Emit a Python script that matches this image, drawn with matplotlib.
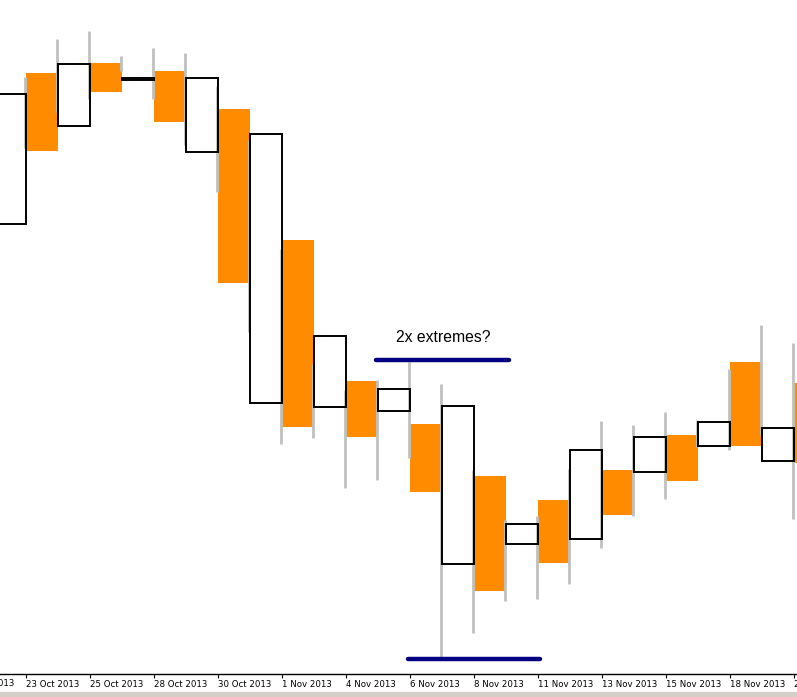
import matplotlib
matplotlib.use("Agg")
import matplotlib.pyplot as plt
from matplotlib.patches import Rectangle

# daily bars, 22 Oct .. 20 Nov 2013 (sunday bars included)
dates = ["22 Oct 2013", "23 Oct 2013", "24 Oct 2013", "25 Oct 2013", "27 Oct 2013",
         "28 Oct 2013", "29 Oct 2013", "30 Oct 2013", "31 Oct 2013", "1 Nov 2013",
         "3 Nov 2013", "4 Nov 2013", "5 Nov 2013", "6 Nov 2013", "7 Nov 2013",
         "8 Nov 2013", "10 Nov 2013", "11 Nov 2013", "12 Nov 2013", "13 Nov 2013",
         "14 Nov 2013", "15 Nov 2013", "17 Nov 2013", "18 Nov 2013", "19 Nov 2013",
         "20 Nov 2013"]
opens = [1.3676, 1.3827, 1.3774, 1.3837, 1.3820, 1.3829, 1.3748, 1.3791, 1.3497, 1.3660,
         1.3493, 1.3519, 1.3489, 1.3476, 1.3336, 1.3424, 1.3356, 1.3400, 1.3361, 1.3430,
         1.3428, 1.3465, 1.3454, 1.3538, 1.3439, 1.3517]
closes = [1.3806, 1.3749, 1.3836, 1.3808, 1.3822, 1.3778, 1.3822, 1.3617, 1.3766, 1.3473,
          1.3564, 1.3463, 1.3511, 1.3408, 1.3494, 1.3309, 1.3376, 1.3337, 1.3450, 1.3385,
          1.3463, 1.3419, 1.3478, 1.3454, 1.3472, 1.3437]
highs = [1.3820, 1.3823, 1.3861, 1.3869, 1.3844, 1.3852, 1.3847, 1.3814, 1.3760, 1.3651,
         1.3536, 1.3510, 1.3520, 1.3538, 1.3516, 1.3430, 1.3380, 1.3384, 1.3431, 1.3479,
         1.3475, 1.3488, 1.3480, 1.3531, 1.3575, 1.3557]
lows = [1.3665, 1.3752, 1.3788, 1.3801, 1.3829, 1.3801, 1.3755, 1.3708, 1.3568, 1.3456,
        1.3462, 1.3412, 1.3420, 1.3442, 1.3243, 1.3267, 1.3299, 1.3301, 1.3316, 1.3352,
        1.3384, 1.3401, 1.3453, 1.3450, 1.3465, 1.3381]

# the two "extreme" levels marked on the chart
upper_level = 1.3540
lower_level = 1.3241

fig = plt.figure(figsize=(7.97, 6.97), dpi=100, facecolor="white")
ax = fig.add_axes([0, 23 / 697, 1, 674 / 697])

n = len(dates)
x = list(range(n))

# wicks (drawn at the left edge of each bar, just like the source chart)
ax.vlines([i - 0.04 for i in x], lows, highs, color="#c0c0c0", lw=2.0, zorder=3)

for i in x:
    o, c = opens[i], closes[i]
    if c < o:
        ax.bar(i, o - c, bottom=c, width=1, align="edge", color="#ff8c00",
               edgecolor="none", zorder=2)
    else:
        # fill under the wicks, outline on top of them
        ax.bar(i, c - o, bottom=o, width=1, align="edge", color="white",
               edgecolor="none", zorder=2)
        ax.bar(i, c - o, bottom=o, width=1, align="edge", fill=False,
               edgecolor="black", lw=1.4, zorder=4)

# annotation
ax.plot([11.94, 16.09], [upper_level, upper_level], color="#000080", lw=3.2,
        solid_capstyle="round", zorder=5)
ax.plot([12.94, 17.06], [lower_level, lower_level], color="#000080", lw=3.2,
        solid_capstyle="round", zorder=5)
ax.text(14.03, 1.3562, "2x extremes?", ha="center", va="center", fontsize=11.3,
        family="Liberation Sans", color="black")

ax.set_xlim(6 / 32, 803 / 32)
ax.set_ylim(1.3900 - 674 / 10000, 1.3900)

ticks = x[1::2]
ax.set_xticks(ticks)
ax.set_xticklabels([dates[i] for i in ticks], ha="left", fontsize=6.2)
ax.tick_params(axis="x", direction="out", length=3, width=0.8, pad=1.5)
# label of the bar before the first one, mostly cut off at the left edge
ax.text(-1.03, -0.0142, "21 Oct 2013", transform=ax.get_xaxis_transform(),
        ha="left", va="center", fontsize=6.2, clip_on=False)

ax.set_yticks([])
for s in ["top", "left", "right"]:
    ax.spines[s].set_visible(False)
ax.spines["bottom"].set_linewidth(1.0)

fig.patches.append(Rectangle((0, 0), 1, 5 / 697, transform=fig.transFigure,
                             color="#d4d0c8", zorder=0))

fig.savefig("out.png", dpi=100)
